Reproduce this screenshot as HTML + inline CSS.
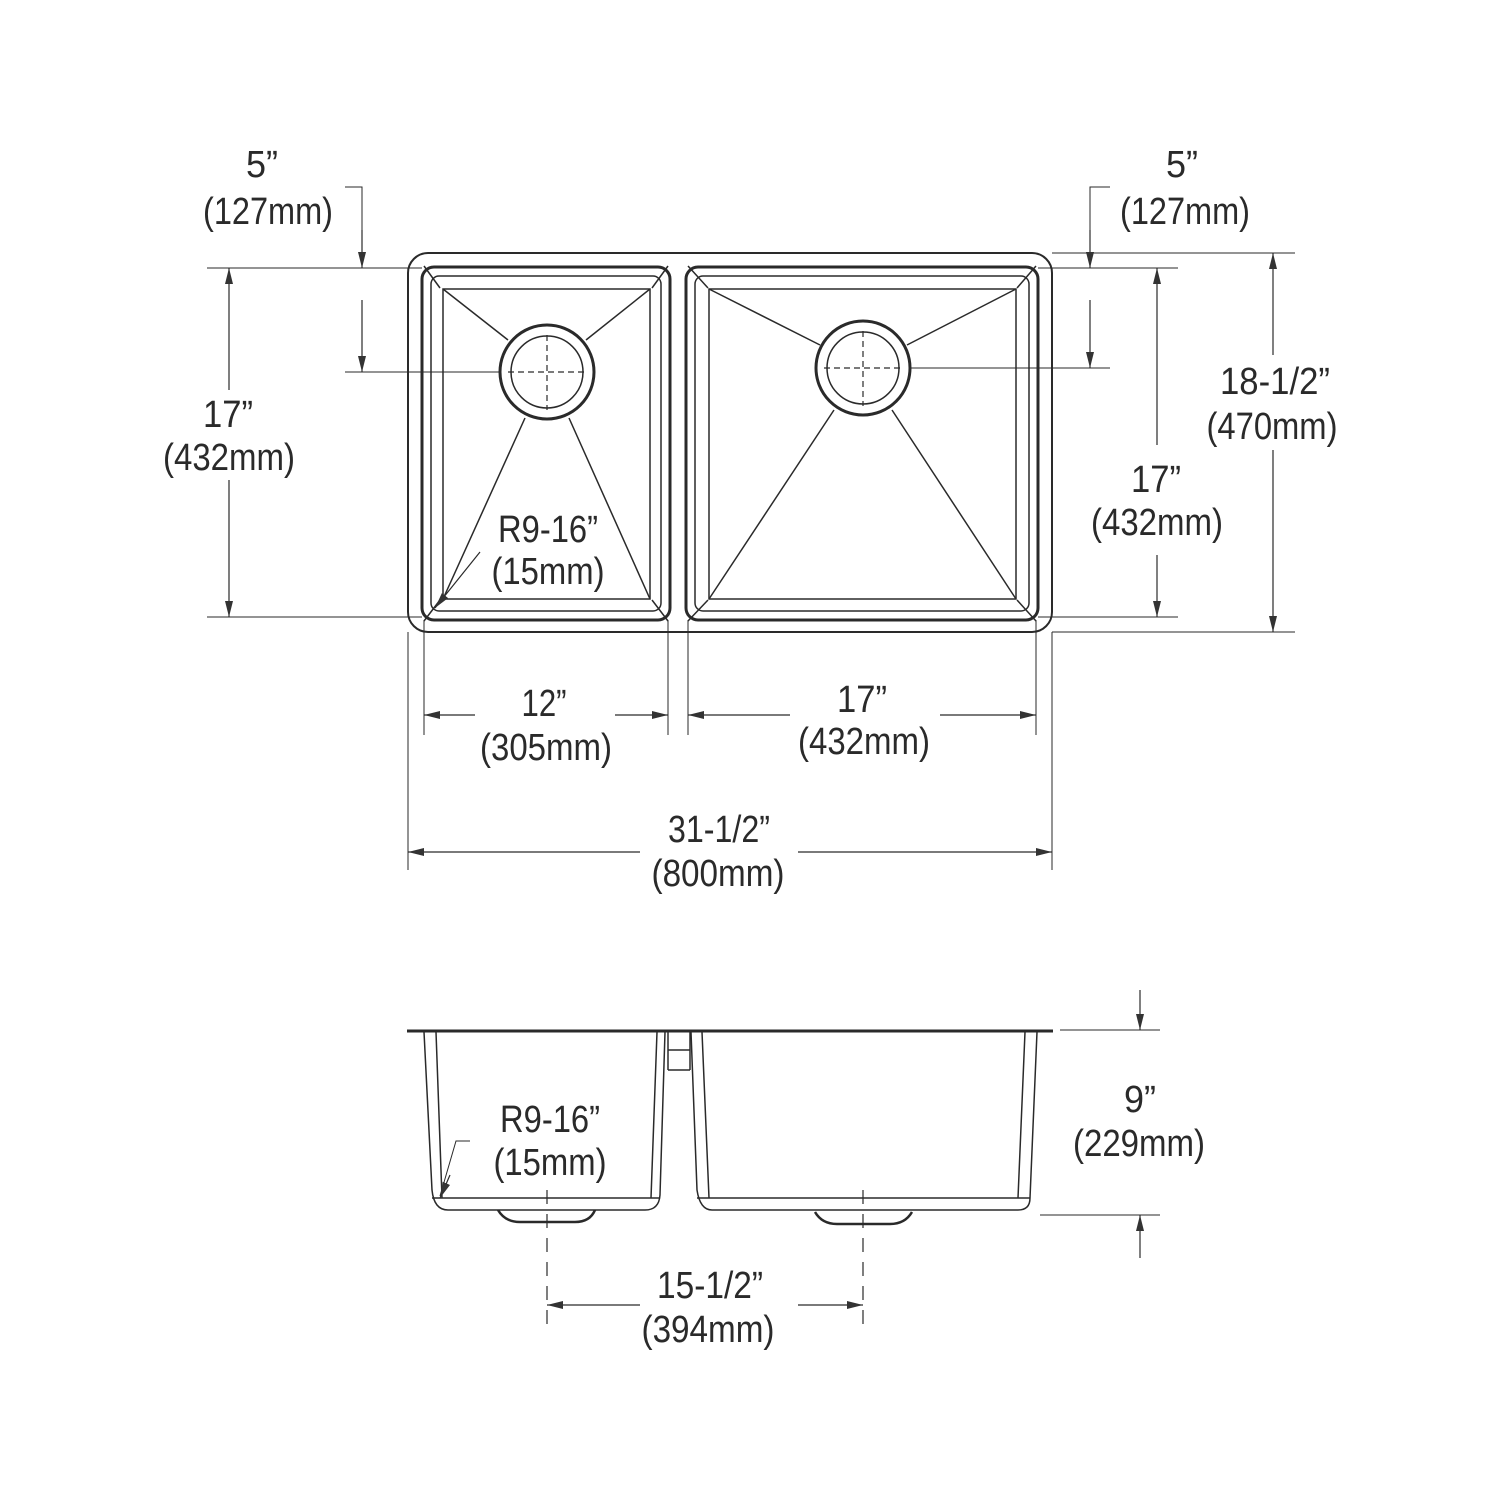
<!DOCTYPE html>
<html><head><meta charset="utf-8"><style>html,body{margin:0;padding:0;background:#fff}svg{display:block}</style></head>
<body>
<svg width="1500" height="1500" viewBox="0 0 1500 1500" xmlns="http://www.w3.org/2000/svg">
<defs>
<marker id="a" viewBox="0 0 16 8" refX="16" refY="4" markerWidth="16" markerHeight="8" markerUnits="userSpaceOnUse" orient="auto-start-reverse"><path d="M0,0 L16,4 L0,8 Z" fill="#333"/></marker>
</defs>
<g fill="none" stroke="#2a2a2a">
<rect x="408" y="253" width="644" height="379" rx="20" stroke-width="2"/>
<rect x="422" y="267" width="248" height="353" rx="12" stroke-width="3"/>
<rect x="431" y="276" width="230" height="335" rx="8" stroke-width="1.5"/>
<rect x="443" y="289" width="207" height="310" stroke-width="1.5"/>
<rect x="686" y="267" width="352" height="353" rx="12" stroke-width="3"/>
<rect x="695" y="276" width="334" height="335" rx="8" stroke-width="1.5"/>
<rect x="709" y="289" width="307" height="310" stroke-width="1.5"/>
<g stroke-width="1.5">
<line x1="443" y1="289" x2="508" y2="340"/><line x1="650" y1="289" x2="586" y2="340"/>
<line x1="443" y1="599" x2="525" y2="418"/><line x1="650" y1="599" x2="569" y2="418"/>
<line x1="709" y1="289" x2="820" y2="345"/><line x1="1016" y1="289" x2="907" y2="345"/>
<line x1="709" y1="599" x2="834" y2="410"/><line x1="1016" y1="599" x2="892" y2="410"/>
<line x1="424" y1="266" x2="440" y2="288"/><line x1="668" y1="266" x2="652" y2="288"/>
<line x1="424" y1="621" x2="440" y2="600"/><line x1="668" y1="621" x2="652" y2="600"/>
<line x1="688" y1="266" x2="708" y2="288"/><line x1="1036" y1="266" x2="1017" y2="288"/>
<line x1="688" y1="621" x2="708" y2="600"/><line x1="1036" y1="621" x2="1017" y2="600"/>
</g>
<circle cx="547" cy="372" r="47" stroke-width="3" fill="#fff"/>
<circle cx="547" cy="372" r="36" stroke-width="1.5"/>
<circle cx="863" cy="368" r="47" stroke-width="3" fill="#fff"/>
<circle cx="863" cy="368" r="36" stroke-width="1.5"/>
<g stroke-width="1.2" stroke-dasharray="6,4">
<line x1="508" y1="372" x2="586" y2="372"/><line x1="547" y1="335" x2="547" y2="410"/>
<line x1="824" y1="368" x2="902" y2="368"/><line x1="863" y1="331" x2="863" y2="406"/>
</g>
<g stroke-width="1">
<line x1="207" y1="268" x2="422" y2="268"/><line x1="207" y1="617" x2="422" y2="617"/>
<line x1="345" y1="372" x2="500" y2="372"/>
<polyline points="345,187 362,187 362,230"/>
<line x1="1038" y1="268" x2="1178" y2="268"/><line x1="1038" y1="617" x2="1178" y2="617"/>
<line x1="910" y1="368" x2="1110" y2="368"/>
<polyline points="1110,187 1090,187 1090,230"/>
<line x1="1052" y1="253" x2="1295" y2="253"/><line x1="1052" y1="632" x2="1295" y2="632"/>
<line x1="424" y1="620" x2="424" y2="735"/><line x1="668" y1="620" x2="668" y2="735"/>
<line x1="688" y1="620" x2="688" y2="735"/><line x1="1036" y1="620" x2="1036" y2="735"/>
<line x1="408" y1="632" x2="408" y2="870"/><line x1="1052" y1="632" x2="1052" y2="870"/>
</g>
<g stroke-width="1.2" marker-end="url(#a)">
<line x1="362" y1="230" x2="362" y2="268"/>
<line x1="362" y1="300" x2="362" y2="372"/>
<line x1="229" y1="390" x2="229" y2="268"/><line x1="229" y1="480" x2="229" y2="617"/>
<line x1="1090" y1="230" x2="1090" y2="268"/>
<line x1="1090" y1="300" x2="1090" y2="368"/>
<line x1="1157" y1="445" x2="1157" y2="268"/><line x1="1157" y1="555" x2="1157" y2="617"/>
<line x1="1273" y1="355" x2="1273" y2="253"/><line x1="1273" y1="450" x2="1273" y2="632"/>
<line x1="475" y1="715" x2="424" y2="715"/><line x1="615" y1="715" x2="668" y2="715"/>
<line x1="790" y1="715" x2="688" y2="715"/><line x1="940" y1="715" x2="1036" y2="715"/>
<line x1="640" y1="852" x2="408" y2="852"/><line x1="798" y1="852" x2="1052" y2="852"/>
<line x1="480" y1="552" x2="435" y2="608"/>
</g>
<line x1="407" y1="1031" x2="1053" y2="1031" stroke-width="3"/>
<g stroke-width="1.5">
<path d="M424,1032 L432,1190 Q434,1210 448,1210 L645,1210 Q659,1210 660,1195 L665,1032"/>
<path d="M436,1032 L442,1198 M657,1032 L651,1198"/>
<line x1="432" y1="1198" x2="660" y2="1198"/>
<line x1="668" y1="1032" x2="668" y2="1070"/><line x1="690" y1="1032" x2="690" y2="1070"/>
<line x1="668" y1="1050" x2="690" y2="1050"/><line x1="668" y1="1070" x2="690" y2="1070"/>
<path d="M691,1032 L697,1190 Q700,1210 712,1210 L1018,1210 Q1030,1210 1030,1198 L1037,1032"/>
<path d="M702,1032 L709,1198 M1025,1032 L1018,1198"/>
<line x1="697" y1="1198" x2="1030" y2="1198"/>
<path d="M498,1210 Q505,1222 520,1222 L575,1222 Q590,1222 595,1210" stroke-width="2.5"/>
<path d="M815,1212 Q822,1224 837,1224 L890,1224 Q905,1224 912,1212" stroke-width="2.5"/>
</g>
<g stroke-width="1.2" stroke-dasharray="14,10">
<line x1="547" y1="1190" x2="547" y2="1328"/><line x1="863" y1="1190" x2="863" y2="1328"/>
</g>
<g stroke-width="1">
<line x1="1060" y1="1030" x2="1160" y2="1030"/><line x1="1040" y1="1215" x2="1160" y2="1215"/>
<polyline points="470,1141 456,1141 440,1196"/>
</g>
<g stroke-width="1.2" marker-end="url(#a)">
<line x1="1140" y1="990" x2="1140" y2="1030"/><line x1="1140" y1="1258" x2="1140" y2="1215"/>
<line x1="640" y1="1305" x2="547" y2="1305"/><line x1="798" y1="1305" x2="863" y2="1305"/>
<line x1="450" y1="1175" x2="440" y2="1198"/>
</g>
</g>
<g font-family="'Liberation Sans',sans-serif" font-size="38" fill="#2a2a2a" text-anchor="middle">
<text x="262" y="177" textLength="32" lengthAdjust="spacingAndGlyphs">5”</text>
<text x="268" y="224" textLength="130" lengthAdjust="spacingAndGlyphs">(127mm)</text>
<text x="1182" y="177" textLength="32" lengthAdjust="spacingAndGlyphs">5”</text>
<text x="1185" y="224" textLength="130" lengthAdjust="spacingAndGlyphs">(127mm)</text>
<text x="228" y="427" textLength="50" lengthAdjust="spacingAndGlyphs">17”</text>
<text x="229" y="470" textLength="132" lengthAdjust="spacingAndGlyphs">(432mm)</text>
<text x="1156" y="492" textLength="50" lengthAdjust="spacingAndGlyphs">17”</text>
<text x="1157" y="535" textLength="132" lengthAdjust="spacingAndGlyphs">(432mm)</text>
<text x="1275" y="394" textLength="110" lengthAdjust="spacingAndGlyphs">18-1/2”</text>
<text x="1272" y="439" textLength="131" lengthAdjust="spacingAndGlyphs">(470mm)</text>
<text x="548" y="542" textLength="100" lengthAdjust="spacingAndGlyphs">R9-16”</text>
<text x="548" y="584" textLength="113" lengthAdjust="spacingAndGlyphs">(15mm)</text>
<text x="544" y="716" textLength="45" lengthAdjust="spacingAndGlyphs">12”</text>
<text x="546" y="760" textLength="132" lengthAdjust="spacingAndGlyphs">(305mm)</text>
<text x="862" y="712" textLength="50" lengthAdjust="spacingAndGlyphs">17”</text>
<text x="864" y="754" textLength="132" lengthAdjust="spacingAndGlyphs">(432mm)</text>
<text x="719" y="842" textLength="102" lengthAdjust="spacingAndGlyphs">31-1/2”</text>
<text x="718" y="886" textLength="133" lengthAdjust="spacingAndGlyphs">(800mm)</text>
<text x="550" y="1132" textLength="100" lengthAdjust="spacingAndGlyphs">R9-16”</text>
<text x="550" y="1175" textLength="113" lengthAdjust="spacingAndGlyphs">(15mm)</text>
<text x="1140" y="1112" textLength="32" lengthAdjust="spacingAndGlyphs">9”</text>
<text x="1139" y="1156" textLength="132" lengthAdjust="spacingAndGlyphs">(229mm)</text>
<text x="710" y="1298" textLength="106" lengthAdjust="spacingAndGlyphs">15-1/2”</text>
<text x="708" y="1342" textLength="133" lengthAdjust="spacingAndGlyphs">(394mm)</text>
</g>
</svg>
</body></html>
